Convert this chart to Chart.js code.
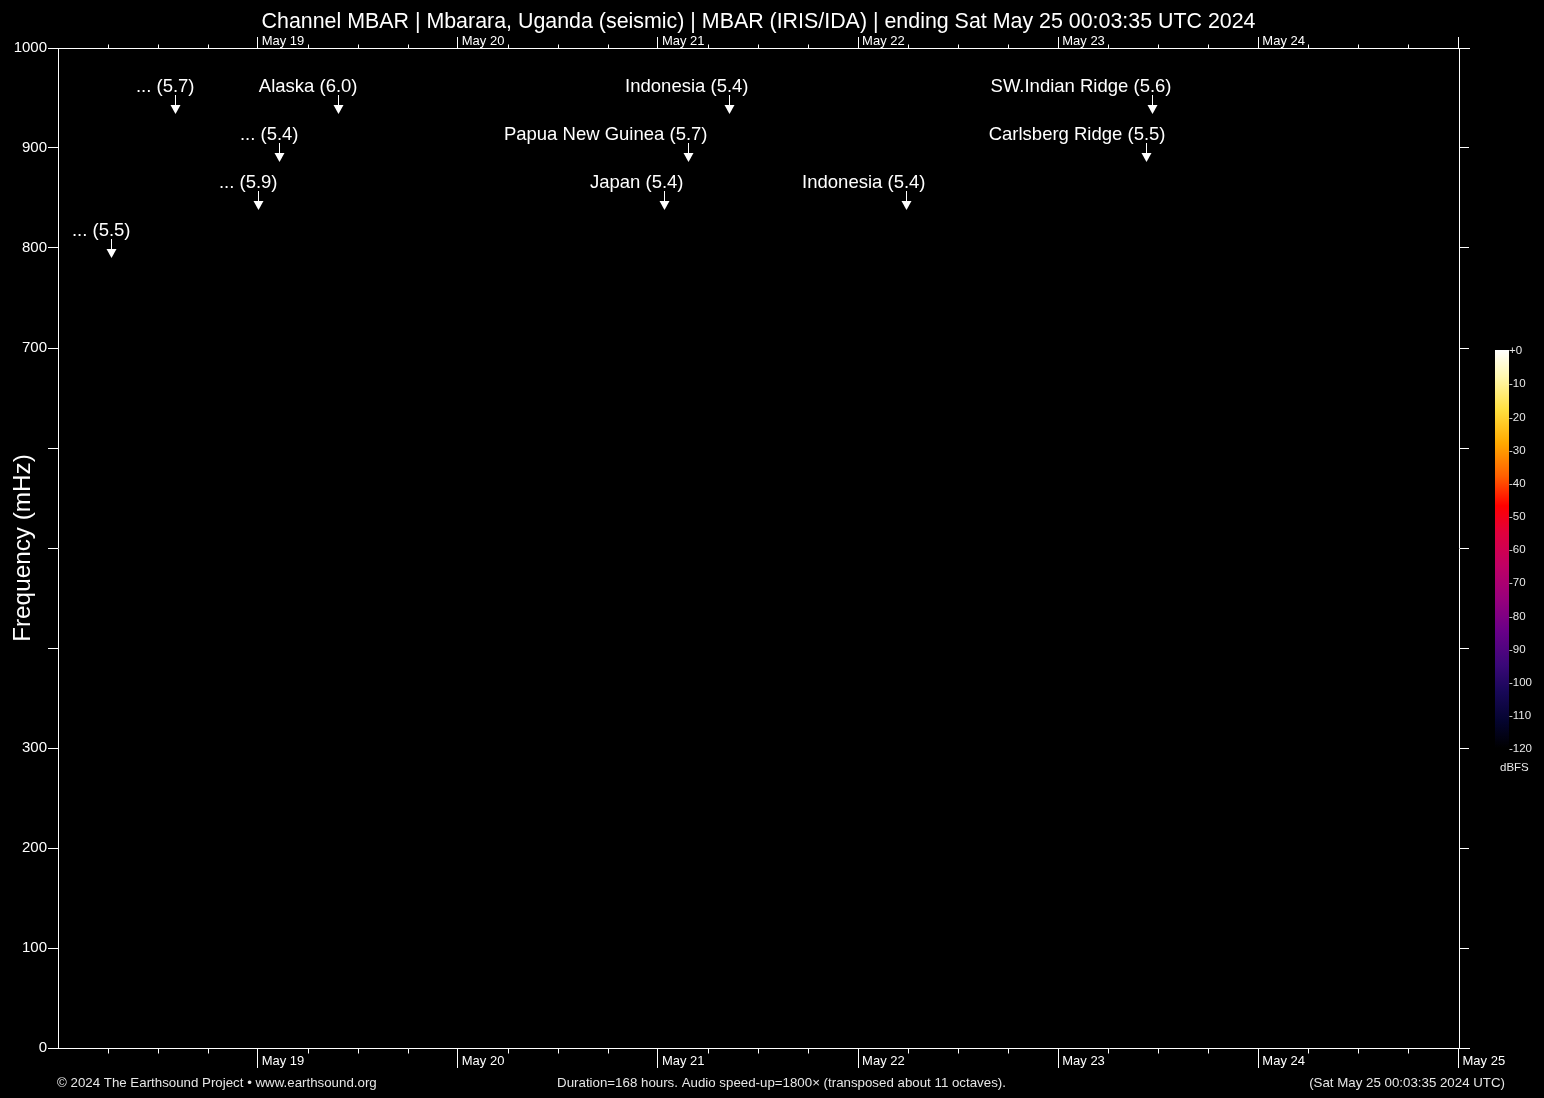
<!DOCTYPE html>
<html><head><meta charset="utf-8">
<script src="https://cdn.jsdelivr.net/npm/chart.js@4.4.1/dist/chart.umd.min.js"></script>
<style>html,body{margin:0;padding:0;background:#000;}#wrap{width:1544px;height:1098px;position:relative;}</style>
</head><body><div id="wrap"><canvas id="c"></canvas></div>
<script>
const titleText = 'Channel MBAR | Mbarara, Uganda (seismic) | MBAR (IRIS/IDA) | ending Sat May 25 00:03:35 UTC 2024';
const yAxisTitle = 'Frequency (mHz)';
const durationHours = 168;
const dayTickHours = [23.94, 47.94, 71.94, 95.94, 119.94, 143.94, 167.94];
const dayTickLabels = ['May 19', 'May 20', 'May 21', 'May 22', 'May 23', 'May 24', 'May 25'];
const topDayTickLabels = ['May 19', 'May 20', 'May 21', 'May 22', 'May 23', 'May 24', ''];
const minorTickStepHours = 6;
const freqTicks = [0, 100, 200, 300, 400, 500, 600, 700, 800, 900, 1000];
const freqTickLabels = ['0', '100', '200', '300', '', '', '', '700', '800', '900', '1000'];
const eventLabels = ['... (5.5)', '... (5.7)', '... (5.9)', '... (5.4)', 'Alaska (6.0)', 'Japan (5.4)', 'Papua New Guinea (5.7)', 'Indonesia (5.4)', 'Indonesia (5.4)', 'Carlsberg Ridge (5.5)', 'SW.Indian Ridge (5.6)'];
const eventHours = [6.40, 14.03, 23.98, 26.50, 33.55, 72.67, 75.55, 80.46, 101.69, 130.50, 131.15];
const eventArrowFreq = [790, 934, 838, 886, 934, 838, 886, 934, 838, 886, 934];
const colorbarTicks = [0, -10, -20, -30, -40, -50, -60, -70, -80, -90, -100, -110, -120];
const colorbarTickLabels = ['+0', '-10', '-20', '-30', '-40', '-50', '-60', '-70', '-80', '-90', '-100', '-110', '-120'];
const colorbarUnit = 'dBFS';
const colorbarStops = [[0, '#ffffff'], [-8, '#fff8b0'], [-18, '#ffe040'], [-28, '#ffaa00'], [-38, '#ff6000'], [-47, '#ff0000'], [-55, '#e0003c'], [-65, '#c00064'], [-75, '#98007c'], [-85, '#680088'], [-95, '#3a0878'], [-103, '#180858'], [-112, '#04042e'], [-120, '#000000']];
const footerLeft = '\u00a9 2024 The Earthsound Project \u2022 www.earthsound.org';
const footerCenter = 'Duration=168 hours. Audio speed-up=1800\u00d7 (transposed about 11 octaves).';
const footerRight = '(Sat May 25 00:03:35 2024 UTC)';

const FONT = '"Liberation Sans", Arial, sans-serif';

const minorTickHours = [];
for (let h = dayTickHours[0] - 3 * minorTickStepHours; h < durationHours; h += minorTickStepHours) {
  if (h > 0 && !dayTickHours.some(d => Math.abs(d - h) < 0.01)) minorTickHours.push(h);
}

const decoPlugin = {
  id: 'deco',
  afterDraw(chart) {
    const ctx = chart.ctx;
    const xs = chart.scales.x;
    const a = chart.chartArea;
    ctx.save();
    ctx.strokeStyle = '#ffffff';
    ctx.lineWidth = 1;
    const top = Math.round(a.top) + 0.5, bot = Math.round(a.bottom) + 0.5;
    ctx.beginPath();
    minorTickHours.forEach(h => {
      const px = Math.round(xs.getPixelForValue(h)) + 0.5;
      ctx.moveTo(px, bot); ctx.lineTo(px, bot + 5);
      ctx.moveTo(px, top); ctx.lineTo(px, top - 4);
    });
    ctx.moveTo(a.right, top); ctx.lineTo(a.right + 11, top);
    ctx.moveTo(a.right, bot); ctx.lineTo(a.right + 11, bot);
    ctx.stroke();

    // colorbar
    const cbL = 1495, cbR = 1509, cbT = 350, cbB = 748;
    const vy = v => cbT + (-v / 120) * (cbB - cbT);
    const g = ctx.createLinearGradient(0, cbT, 0, cbB);
    colorbarStops.forEach(s => g.addColorStop(-s[0] / 120, s[1]));
    ctx.fillStyle = g;
    ctx.fillRect(cbL, cbT, cbR - cbL, cbB - cbT);
    ctx.fillStyle = '#e8e8e8';
    ctx.font = '11.5px ' + FONT;
    ctx.textAlign = 'left'; ctx.textBaseline = 'middle';
    colorbarTicks.forEach((v, i) => ctx.fillText(colorbarTickLabels[i], cbR, vy(v) + 1));
    ctx.fillText(colorbarUnit, 1500, 768);

    // footer
    ctx.fillStyle = '#e6e6e6';
    ctx.font = '13.3px ' + FONT;
    ctx.textBaseline = 'middle';
    ctx.textAlign = 'left'; ctx.fillText(footerLeft, 57, 1083.5);
    ctx.textAlign = 'center'; ctx.fillText(footerCenter, 781.5, 1083.5);
    ctx.textAlign = 'right'; ctx.fillText(footerRight, 1505, 1083.5);
    ctx.restore();
  },
  afterDatasetsDraw(chart) {
    const meta = chart.getDatasetMeta(0);
    const ctx = chart.ctx;
    ctx.save();
    ctx.fillStyle = '#fff'; ctx.strokeStyle = '#fff'; ctx.lineWidth = 1;
    ctx.font = '18.5px ' + FONT;
    meta.data.forEach((el, i) => {
      const x = Math.round(el.x) + 0.5, y = Math.round(el.y);
      ctx.beginPath(); ctx.moveTo(x, y - 19); ctx.lineTo(x, y - 7); ctx.stroke();
      ctx.beginPath(); ctx.moveTo(x - 5, y - 9); ctx.lineTo(x + 5, y - 9); ctx.lineTo(x, y); ctx.closePath(); ctx.fill();
      const label = eventLabels[i];
      const dot = label.lastIndexOf('.');
      const wBefore = ctx.measureText(label.slice(0, dot)).width;
      const wDot = ctx.measureText('.').width;
      ctx.textAlign = 'left'; ctx.textBaseline = 'middle';
      ctx.fillText(label, x - wBefore - wDot / 2, y - 27);
    });
    ctx.restore();
  }
};

const tickFontX = {family: FONT, size: 13};
new Chart(document.getElementById('c'), {
  type: 'scatter',
  data: {
    datasets: [{
      data: eventHours.map((h, i) => ({x: h, y: eventArrowFreq[i]})),
      pointRadius: 0, pointHoverRadius: 0, xAxisID: 'x', yAxisID: 'y'
    }]
  },
  options: {
    responsive: true, maintainAspectRatio: false, animation: false, devicePixelRatio: 1,
    events: [],
    layout: {padding: {left: 0, right: 75, top: 0, bottom: 0}},
    plugins: {
      legend: {display: false}, tooltip: {enabled: false},
      title: {display: true, text: titleText, color: '#ffffff', fullSize: false,
        font: {family: FONT, size: 21.4, weight: 'normal', lineHeight: '26px'}, padding: {top: 9, bottom: 0}}
    },
    scales: {
      x: {
        type: 'linear', position: 'bottom', min: 0, max: durationHours,
        afterBuildTicks: s => { s.ticks = dayTickHours.map(v => ({value: v})); },
        afterFit: s => { s.height = 50; },
        grid: {drawOnChartArea: false, drawTicks: true, tickLength: 20, color: '#ffffff', tickColor: '#ffffff'},
        border: {display: true, color: '#ffffff', width: 1},
        ticks: {autoSkip: false, maxRotation: 0, align: 'start', labelOffset: 4, padding: -14, color: '#ffffff', font: tickFontX,
          callback: (v, i) => dayTickLabels[i]}
      },
      x2: {
        type: 'linear', position: 'top', min: 0, max: durationHours,
        afterBuildTicks: s => { s.ticks = dayTickHours.map(v => ({value: v})); },
        afterFit: s => { s.height = 13; },
        grid: {drawOnChartArea: false, drawTicks: true, tickLength: 11, color: '#ffffff', tickColor: '#ffffff'},
        border: {display: true, color: '#ffffff', width: 1},
        ticks: {autoSkip: false, maxRotation: 0, align: 'start', labelOffset: 4, padding: -12, color: '#ffffff', font: {family: FONT, size: 13},
          callback: (v, i) => topDayTickLabels[i]}
      },
      y: {
        type: 'linear', position: 'left', min: 0, max: 1000,
        afterBuildTicks: s => { s.ticks = freqTicks.map(v => ({value: v})); },
        afterFit: s => { s.width = 58; },
        grid: {drawOnChartArea: false, drawTicks: true, tickLength: 10, color: '#ffffff', tickColor: '#ffffff'},
        border: {display: true, color: '#ffffff', width: 1},
        ticks: {autoSkip: false, padding: 1, color: '#ffffff', font: {family: FONT, size: 15},
          callback: (v, i) => freqTickLabels[i]},
        title: {display: true, text: yAxisTitle, color: '#ffffff', font: {family: FONT, size: 24.3, lineHeight: 1}, padding: {top: 11, bottom: 0}}
      },
      y2: {
        type: 'linear', position: 'right', min: 0, max: 1000,
        afterBuildTicks: s => { s.ticks = freqTicks.map(v => ({value: v})); },
        afterFit: s => { s.width = 10; },
        grid: {drawOnChartArea: false, drawTicks: true, tickLength: 10, color: '#ffffff', tickColor: '#ffffff'},
        border: {display: true, color: '#ffffff', width: 1},
        ticks: {display: false}
      }
    }
  },
  plugins: [decoPlugin]
});
</script></body></html>
